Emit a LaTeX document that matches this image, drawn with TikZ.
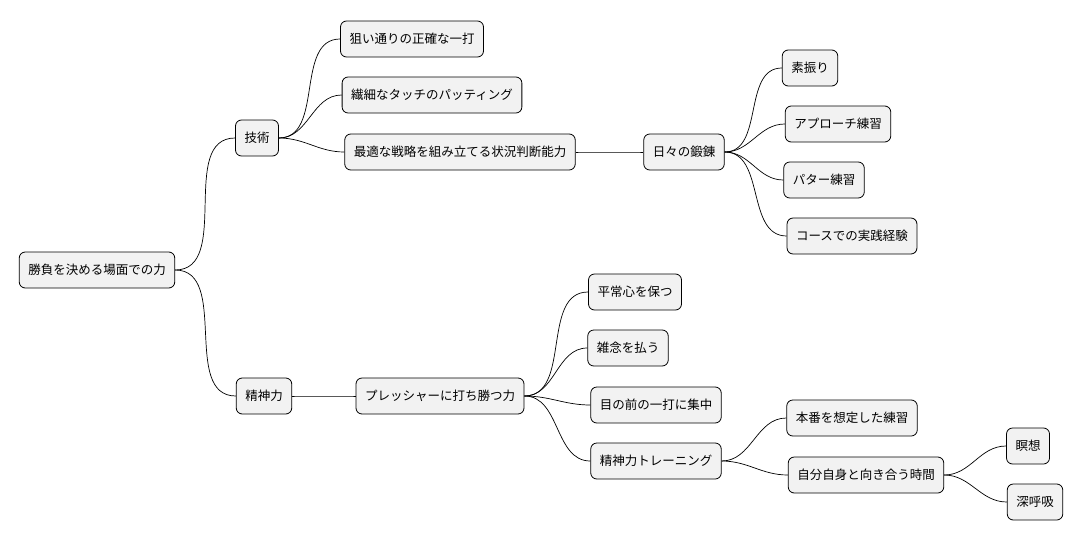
\documentclass[tikz,border=0pt]{standalone}
\usepackage{fontspec}
\setmainfont{Noto Sans CJK JP}
\usepackage{tikz}
\tikzset{
  box/.style={draw, rounded corners=6pt, fill=black!5, line width=0.8pt,
    inner xsep=9pt, minimum height=36pt, font=\fontsize{12.5}{14}\selectfont},
  link/.style={line width=0.7pt, out=0, in=180}
}
\begin{document}
\begin{tikzpicture}[x=1pt,y=-1pt]
		\useasboundingbox (0,0) rectangle (1076,541);
		\node[box] (root) at (97,270) {勝負を決める場面での力};
		\node[box] (gi) at (257,138) {技術};
		\node[box] (sei) at (264,396) {精神力};
		\node[box] (g1) at (412,39) {狙い通りの正確な一打};
		\node[box] (g2) at (432,95) {繊細なタッチのパッティング};
		\node[box] (g3) at (460,152) {最適な戦略を組み立てる状況判断能力};
		\node[box] (tan) at (684,152) {日々の鍛錬};
		\node[box] (t1) at (810,68) {素振り};
		\node[box] (t2) at (838,124) {アプローチ練習};
		\node[box] (t3) at (824,180) {パター練習};
		\node[box] (t4) at (852,236) {コースでの実践経験};
		\node[box] (pre) at (440,396) {プレッシャーに打ち勝つ力};
		\node[box] (p1) at (635,292) {平常心を保つ};
		\node[box] (p2) at (628,348) {雑念を払う};
		\node[box] (p3) at (656,405) {目の前の一打に集中};
		\node[box] (p4) at (656,461) {精神力トレーニング};
		\node[box] (s1) at (852,418) {本番を想定した練習};
		\node[box] (s2) at (866,475) {自分自身と向き合う時間};
		\node[box] (m1) at (1028,446) {瞑想};
		\node[box] (m2) at (1035,502) {深呼吸};
		
		\draw[link] (root.east) to (gi.west);
		\draw[link] (root.east) to (sei.west);
		\foreach \c in {g1,g2,g3} \draw[link] (gi.east) to (\c.west);
		\draw[link] (g3.east) to (tan.west);
		\foreach \c in {t1,t2,t3,t4} \draw[link] (tan.east) to (\c.west);
		\draw[link] (sei.east) to (pre.west);
		\foreach \c in {p1,p2,p3,p4} \draw[link] (pre.east) to (\c.west);
		\foreach \c in {s1,s2} \draw[link] (p4.east) to (\c.west);
		\foreach \c in {m1,m2} \draw[link] (s2.east) to (\c.west);
\end{tikzpicture}
\end{document}
